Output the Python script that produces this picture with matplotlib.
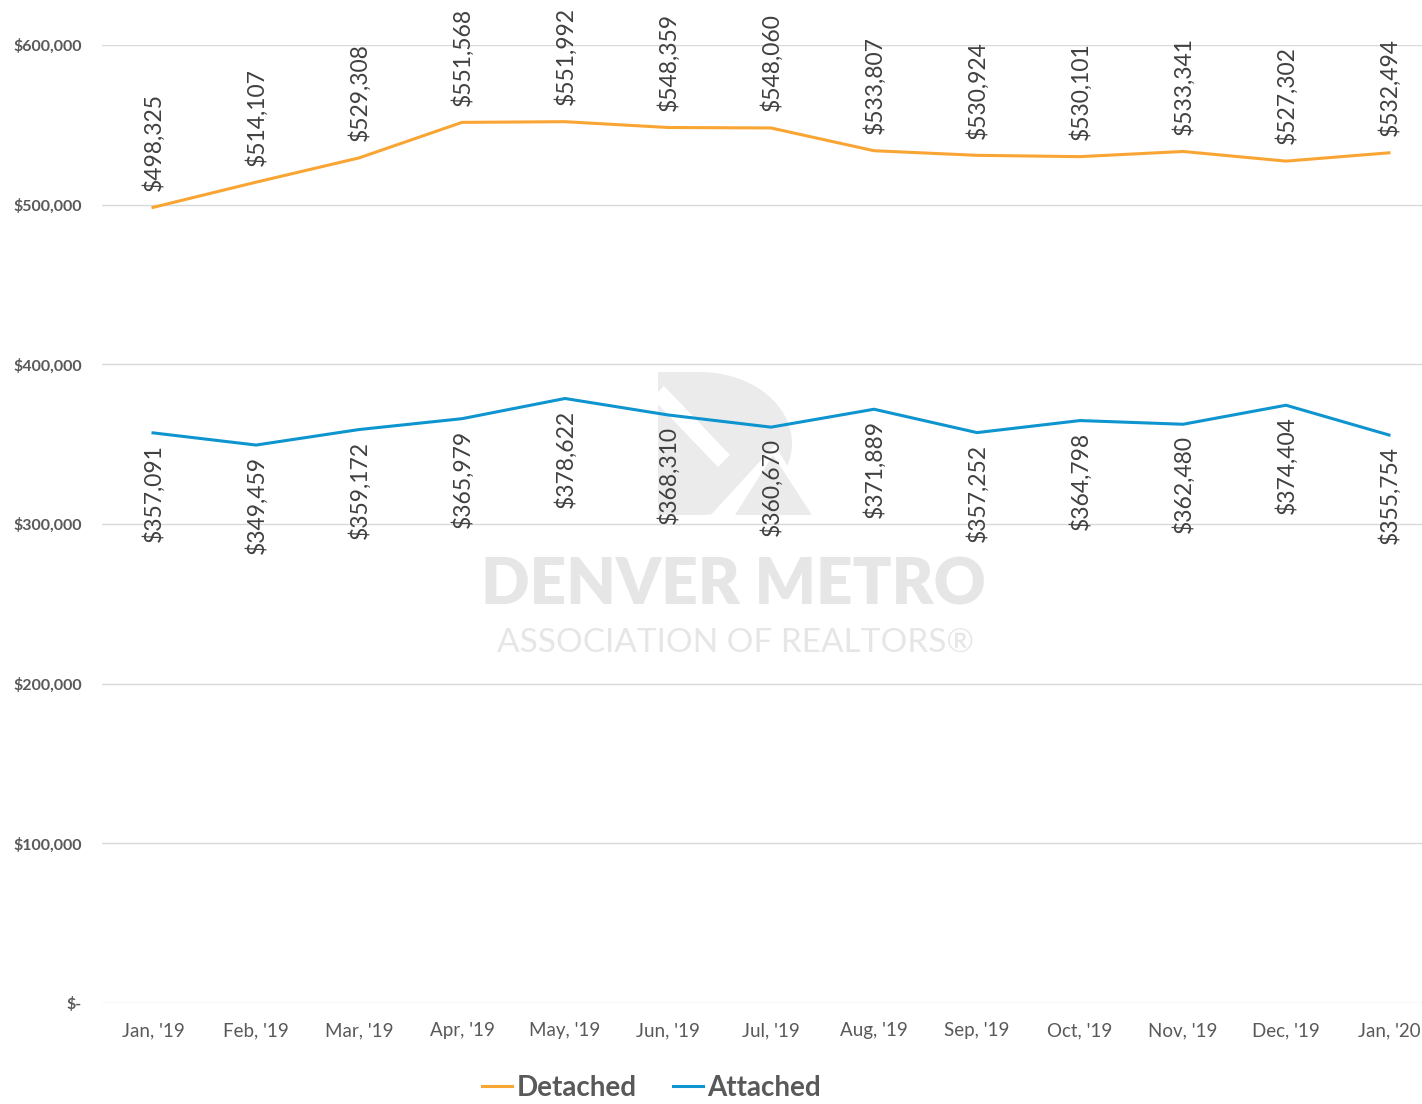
import matplotlib.pyplot as plt
from matplotlib.patches import Polygon
import numpy as np

months = ["Jan, '19", "Feb, '19", "Mar, '19", "Apr, '19", "May, '19", "Jun, '19", "Jul, '19",
          "Aug, '19", "Sep, '19", "Oct, '19", "Nov, '19", "Dec, '19", "Jan, '20"]
detached = [498325, 514107, 529308, 551568, 551992, 548359, 548060,
            533807, 530924, 530101, 533341, 527302, 532494]
attached = [357091, 349459, 359172, 365979, 378622, 368310, 360670,
            371889, 357252, 364798, 362480, 374404, 355754]
yticks = [0, 100000, 200000, 300000, 400000, 500000, 600000]

orange = "#F9A533"
blue = "#0E95D0"
txt = "#404040"
wm = "#EBEBEB"

plt.rcParams['font.family'] = ['Lato', 'DejaVu Sans']

W, H = 1422, 1104
fig = plt.figure(figsize=(W / 100, H / 100), dpi=100)
ax = fig.add_axes([0.0714, 0.0915, 0.9416, 0.8677], zorder=2)

# watermark logo (rough D shape), in pixel coords from the top-left
def px(pts):
    return [(a / W, 1 - b / H) for a, b in pts]

t = np.linspace(np.pi / 2, -np.pi / 2, 40)
arc = [(700 + 92 * np.cos(a), 443.5 - 71.5 * np.sin(a)) for a in t]
d_body = [(658, 515), (658, 372), (700, 372)] + arc + [(700, 515)]
fig.add_artist(Polygon(px(d_body), closed=True, transform=fig.transFigure,
                       facecolor=wm, edgecolor='none', zorder=0))
fig.add_artist(Polygon(px([(652, 398), (664, 386), (730, 455), (718, 467)]), closed=True,
                       transform=fig.transFigure, facecolor='white', edgecolor='none', zorder=0))
fig.add_artist(Polygon(px([(708, 518), (750, 518), (778, 478), (795, 500), (790, 470), (775, 445)]),
                       closed=True, transform=fig.transFigure, facecolor='white',
                       edgecolor='none', zorder=0))
fig.add_artist(Polygon(px([(735, 515), (812, 515), (773, 455)]), closed=True,
                       transform=fig.transFigure, facecolor=wm, edgecolor='none', zorder=0))
fig.text(0.516, 0.469, "DENVER METRO", fontsize=46, fontweight='heavy', color="#E6E6E6",
         ha='center', va='center', zorder=0)
fig.text(0.517, 0.418, "ASSOCIATION OF REALTORS\u00ae", fontsize=24, color="#E6E6E6",
         ha='center', va='center', zorder=0)

x = np.arange(len(months))
ax.plot(x, detached, color=orange, lw=2.2, label="Detached", zorder=3)
ax.plot(x, attached, color=blue, lw=2.2, label="Attached", zorder=3)

for i in x:
    ax.annotate(f"${detached[i]:,}", (i, detached[i]), xytext=(0, 12), textcoords='offset points',
                rotation=90, ha='center', va='bottom', fontsize=16.5, color=txt, annotation_clip=False)
    ax.annotate(f"${attached[i]:,}", (i, attached[i]), xytext=(0, -8), textcoords='offset points',
                rotation=90, ha='center', va='top', fontsize=16.5, color=txt, annotation_clip=False)

ax.set_xlim(-0.5, len(months) - 0.5)
ax.set_ylim(0, 600000)
ax.set_xticks(x)
ax.set_xticklabels(months, fontsize=13.5, color="#595959")
ax.set_yticks(yticks)
ax.set_yticklabels(["$-" if v == 0 else f"${v:,}" for v in yticks], fontsize=11.5,
                   color="#595959", fontweight='bold')
ax.tick_params(length=0)
ax.tick_params(axis='x', pad=14)
ax.tick_params(axis='y', pad=14)
ax.grid(axis='y', color="#D9D9D9", lw=1)
ax.set_axisbelow(True)
for s in ax.spines.values():
    s.set_visible(False)
ax.patch.set_alpha(0)

leg = fig.legend(loc='lower center', bbox_to_anchor=(0.458, -0.02), ncol=2, frameon=False,
                 prop={'size': 20, 'weight': 'bold'}, handlelength=1.1, handletextpad=0.15,
                 columnspacing=1.3)
for t in leg.get_texts():
    t.set_color("#595959")

fig.savefig("out.png", dpi=100)
